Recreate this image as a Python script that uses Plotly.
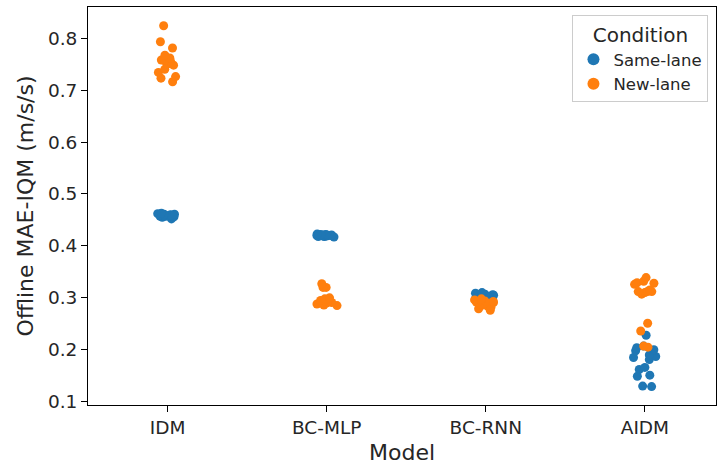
import plotly.graph_objects as go

models = ["IDM", "BC-MLP", "BC-RNN", "AIDM"]
conditions = ["Same-lane", "New-lane"]
colors = {"Same-lane": "#1f77b4", "New-lane": "#ff7f0e"}

same_idm = [0.452, 0.455, 0.457, 0.458, 0.459, 0.460, 0.460, 0.461, 0.462, 0.463, 0.458, 0.456, 0.459, 0.457, 0.461]
new_idm = [0.824, 0.793, 0.781, 0.767, 0.762, 0.758, 0.757, 0.755, 0.750, 0.748, 0.740, 0.734, 0.726, 0.723, 0.716]
same_mlp = [0.417, 0.418, 0.419, 0.420, 0.420, 0.421, 0.421, 0.422, 0.423, 0.419, 0.420, 0.418, 0.422, 0.421, 0.420]
new_mlp = [0.327, 0.320, 0.320, 0.300, 0.297, 0.295, 0.293, 0.291, 0.290, 0.288, 0.286, 0.285, 0.294, 0.298, 0.289]
same_rnn = [0.310, 0.308, 0.306, 0.305, 0.304, 0.303, 0.302, 0.301, 0.300, 0.307, 0.303, 0.305, 0.299, 0.302, 0.309]
new_rnn = [0.298, 0.296, 0.294, 0.292, 0.290, 0.288, 0.286, 0.284, 0.282, 0.279, 0.276, 0.293, 0.291, 0.295, 0.289]
same_aidm = [0.228, 0.207, 0.204, 0.198, 0.190, 0.185, 0.181, 0.166, 0.162, 0.149, 0.151, 0.129, 0.130, 0.200, 0.187]
new_aidm = [0.339, 0.326, 0.312, 0.328, 0.329, 0.332, 0.307, 0.310, 0.312, 0.312, 0.251, 0.236, 0.205, 0.207, 0.315]

values = {
    "Same-lane": [same_idm, same_mlp, same_rnn, same_aidm],
    "New-lane": [new_idm, new_mlp, new_rnn, new_aidm],
}

y_ticks = [0.1, 0.2, 0.3, 0.4, 0.5, 0.6, 0.7, 0.8]

fig = go.Figure()
for cond in conditions:
    xs, ys = [], []
    for m, vals in zip(models, values[cond]):
        xs += [m] * len(vals)
        ys += vals
    fig.add_trace(go.Box(
        x=xs, y=ys, name=cond, boxpoints="all", jitter=0.3, pointpos=0,
        fillcolor="rgba(0,0,0,0)", line=dict(width=0, color="rgba(0,0,0,0)"),
        marker=dict(color=colors[cond], size=9, opacity=1),
        showlegend=False, hoveron="points",
    ))
for cond in conditions:
    fig.add_trace(go.Scatter(
        x=[None], y=[None], mode="markers", name=cond,
        marker=dict(color=colors[cond], size=12),
    ))

fig.update_layout(
    width=717, height=465,
    margin=dict(l=88, r=1, t=7, b=60),
    paper_bgcolor="white", plot_bgcolor="white",
    boxmode="overlay",
    font=dict(family="DejaVu Sans", color="#262626"),
    legend=dict(
        title=dict(text="Condition", font=dict(size=20), side="top center"),
        x=0.988, xanchor="right", y=0.98, yanchor="top",
        bordercolor="#cccccc", borderwidth=1, bgcolor="white",
        font=dict(size=16.5), itemsizing="trace",
    ),
    xaxis=dict(
        title=dict(text="Model", font=dict(size=22), standoff=7),
        categoryorder="array", categoryarray=models, automargin=False,
        range=[-0.5, 3.447], showline=True, linecolor="black", linewidth=1,
        mirror=True, ticks="outside", ticklen=6, tickcolor="black",
        tickfont=dict(size=18.5), showgrid=False, zeroline=False,
    ),
    yaxis=dict(
        title=dict(text="Offline MAE-IQM (m/s/s)", font=dict(size=22), standoff=8),
        range=[0.0936, 0.860], tickvals=y_ticks, ticktext=[f"{t:.1f}" for t in y_ticks],
        showline=True, linecolor="black", linewidth=1, mirror=True, automargin=False,
        ticks="outside", ticklen=6, tickcolor="black",
        tickfont=dict(size=18.5), showgrid=False, zeroline=False,
    ),
)

fig.write_html("out.html", config={"displayModeBar": False},
               post_script="document.body.style.margin='0px';")
